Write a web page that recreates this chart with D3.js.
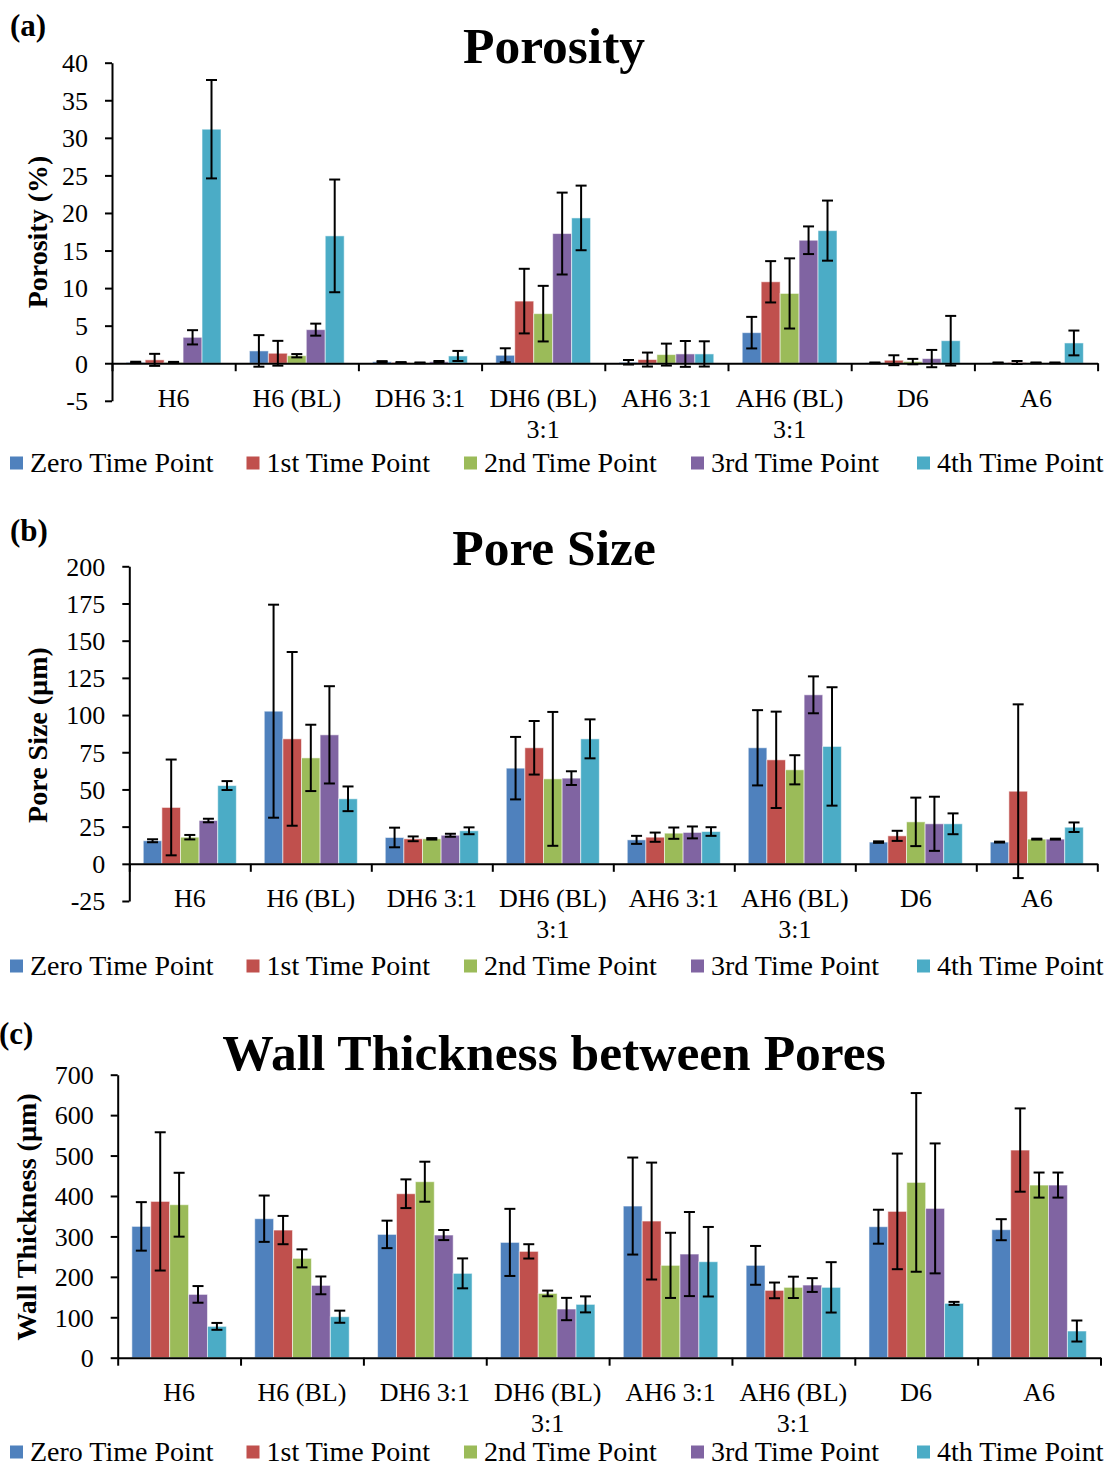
<!DOCTYPE html>
<html>
<head>
<meta charset="utf-8">
<script src="https://cdn.jsdelivr.net/npm/d3@7"></script>
<style>
  html, body { margin: 0; padding: 0; background: #fff; }
  svg { display: block; font-family: "Liberation Serif", "Times New Roman", serif; }
</style>
</head>
<body>
<svg id="chart" width="1109" height="1467"></svg>
<script>
// ---- shared categories / series ----
const categories = ["H6", "H6 (BL)", "DH6 3:1", "DH6 (BL) 3:1", "AH6 3:1", "AH6 (BL) 3:1", "D6", "A6"];
const seriesNames = ["Zero Time Point", "1st Time Point", "2nd Time Point", "3rd Time Point", "4th Time Point"];
const seriesColors = ["#4F81BD", "#C0504D", "#9BBB59", "#8064A2", "#4BACC6"];

// ---- (a) Porosity (%) ----
const porosityZero   = [0.12, 1.64, 0.2, 1.06, 0.13, 4.07, 0.05, 0.05];
const porosityFirst  = [0.45, 1.33, 0.1, 8.27, 0.49, 10.84, 0.4, 0.1];
const porositySecond = [0.1, 1.0, 0.05, 6.6, 1.15, 9.29, 0.22, 0.05];
const porosityThird  = [3.45, 4.47, 0.2, 17.26, 1.24, 16.37, 0.62, 0.05];
const porosityFourth = [31.15, 16.95, 0.97, 19.34, 1.24, 17.65, 3.0, 2.7];
const porosityZeroErr   = [0.08, 2.1, 0.08, 0.93, 0.3, 2.1, 0.05, 0.05];
const porosityFirstErr  = [0.8, 1.65, 0.05, 4.3, 0.93, 2.75, 0.66, 0.2];
const porositySecondErr = [0.08, 0.22, 0.05, 3.7, 1.46, 4.67, 0.36, 0.05];
const porosityThirdErr  = [0.95, 0.8, 0.1, 5.45, 1.72, 1.84, 1.15, 0.05];
const porosityFourthErr = [6.55, 7.5, 0.67, 4.3, 1.68, 4.0, 3.3, 1.65];
const porosityTicks = [-5, 0, 5, 10, 15, 20, 25, 30, 35, 40];

// ---- (b) Pore Size (µm) ----
const poreZero   = [15.5, 102.6, 17.7, 64.3, 16.1, 78.0, 14.6, 14.6];
const poreFirst  = [37.9, 84.0, 16.8, 78.0, 17.9, 69.9, 18.8, 48.8];
const poreSecond = [17.9, 71.2, 16.8, 57.1, 20.6, 63.2, 28.2, 16.6];
const poreThird  = [29.1, 86.7, 19.2, 57.6, 21.1, 113.6, 26.9, 16.6];
const poreFourth = [52.6, 43.7, 22.2, 84.0, 21.7, 78.9, 26.9, 24.6];
const poreZeroErr   = [1.0, 71.6, 6.6, 21.0, 2.7, 25.3, 0.5, 0.3];
const poreFirstErr  = [32.2, 58.4, 1.6, 18.0, 3.1, 32.4, 3.4, 58.4];
const poreSecondErr = [1.5, 22.3, 0.5, 45.0, 3.8, 9.8, 16.3, 0.3];
const poreThirdErr  = [1.2, 32.7, 1.0, 4.6, 4.0, 12.4, 18.2, 0.3];
const poreFourthErr = [3.0, 8.3, 2.3, 13.1, 2.9, 39.8, 7.0, 3.2];
const poreTicks = [-25, 0, 25, 50, 75, 100, 125, 150, 175, 200];

// ---- (c) Wall thickness between pores (µm) ----
const wallZero   = [324.8, 343.8, 305.0, 285.2, 375.1, 228.4, 324.0, 316.6];
const wallFirst  = [386.6, 315.7, 405.6, 263.0, 338.0, 166.5, 361.9, 513.6];
const wallSecond = [378.4, 245.7, 435.3, 159.0, 228.4, 174.0, 433.6, 427.0];
const wallThird  = [156.6, 178.9, 303.4, 120.4, 256.4, 179.7, 369.3, 427.0];
const wallFourth = [77.5, 101.4, 208.6, 131.9, 237.4, 174.0, 134.4, 66.0];
const wallZeroErr   = [60.0, 57.3, 34.0, 83.0, 120.0, 48.0, 42.0, 26.0];
const wallFirstErr  = [171.0, 35.0, 35.5, 17.7, 144.6, 19.4, 143.0, 103.0];
const wallSecondErr = [79.0, 22.3, 49.5, 7.0, 80.6, 26.4, 221.0, 31.0];
const wallThirdErr  = [20.6, 22.0, 12.5, 27.6, 104.0, 17.0, 160.7, 31.0];
const wallFourthErr = [8.5, 15.0, 37.0, 19.8, 86.0, 62.3, 3.7, 26.0];
const wallTicks = [0, 100, 200, 300, 400, 500, 600, 700];

// ---- panel layout ----
const panels = [
  {
    tag: "(a)", tagX: 10, tagY: 36,
    title: "Porosity", titleY: 63,
    yTitle: "Porosity (%)", yTitleX: 47, yTitleY: 232,
    values: [porosityZero, porosityFirst, porositySecond, porosityThird, porosityFourth],
    errors: [porosityZeroErr, porosityFirstErr, porositySecondErr, porosityThirdErr, porosityFourthErr],
    ticks: porosityTicks,
    left: 112, right: 1097.6, top: 62.7, bottom: 400.8,
    labelY: 406.6, legendY: 472
  },
  {
    tag: "(b)", tagX: 10, tagY: 541,
    title: "Pore Size", titleY: 565,
    yTitle: "Pore Size (µm)", yTitleX: 47, yTitleY: 735,
    values: [poreZero, poreFirst, poreSecond, poreThird, poreFourth],
    errors: [poreZeroErr, poreFirstErr, poreSecondErr, poreThirdErr, poreFourthErr],
    ticks: poreTicks,
    left: 129.3, right: 1097.3, top: 566.3, bottom: 901,
    labelY: 906.6, legendY: 975
  },
  {
    tag: "(c)", tagX: -1, tagY: 1044,
    title: "Wall Thickness between Pores", titleY: 1070,
    yTitle: "Wall Thickness (µm)", yTitleX: 36, yTitleY: 1217,
    values: [wallZero, wallFirst, wallSecond, wallThird, wallFourth],
    errors: [wallZeroErr, wallFirstErr, wallSecondErr, wallThirdErr, wallFourthErr],
    ticks: wallTicks,
    left: 117.7, right: 1100.5, top: 1074.7, bottom: 1357.7,
    labelY: 1400.6, legendY: 1461
  }
];

const legendX = [10, 246.5, 464, 691, 917];
const svg = d3.select("#chart");
svg.append("rect").attr("width", 1109).attr("height", 1467).attr("fill", "#fff");

panels.forEach(p => drawPanel(p));

function drawPanel(p) {
  const g = svg.append("g");
  const yDomain = d3.extent(p.ticks);
  const y = d3.scaleLinear().domain(yDomain).range([p.bottom, p.top]);
  const x0 = d3.scaleBand().domain(categories).range([p.left, p.right]).paddingInner(0).paddingOuter(0);
  const x1 = d3.scaleBand().domain(seriesNames).range([0, x0.bandwidth()]).paddingInner(0).paddingOuter(0.75);

  // bars
  const rows = [];
  p.values.forEach((vals, si) => {
    vals.forEach((v, ci) => rows.push({ s: seriesNames[si], si, c: categories[ci], v, e: p.errors[si][ci] }));
  });

  g.append("g").selectAll("rect").data(rows).join("rect")
    .attr("x", d => x0(d.c) + x1(d.s))
    .attr("width", x1.bandwidth())
    .attr("y", d => Math.min(y(d.v), y(0)))
    .attr("height", d => Math.abs(y(0) - y(d.v)))
    .attr("fill", d => seriesColors[d.si])
    .attr("stroke", "rgba(255,255,255,0.55)")
    .attr("stroke-width", 1);

  // error bars
  const eb = g.append("g").attr("stroke", "#000").attr("stroke-width", 2).attr("fill", "none");
  const cap = 5.5;
  rows.forEach(d => {
    const cx = x0(d.c) + x1(d.s) + x1.bandwidth() / 2;
    const yHi = y(d.v + d.e), yLo = y(d.v - d.e);
    eb.append("line").attr("x1", cx).attr("x2", cx).attr("y1", yHi).attr("y2", yLo);
    eb.append("line").attr("x1", cx - cap).attr("x2", cx + cap).attr("y1", yHi).attr("y2", yHi);
    eb.append("line").attr("x1", cx - cap).attr("x2", cx + cap).attr("y1", yLo).attr("y2", yLo);
  });

  // y axis (plain hyphen for negative numbers)
  const yAxis = g.append("g")
    .attr("transform", `translate(${p.left},0)`)
    .call(d3.axisLeft(y).tickValues(p.ticks).tickSize(7).tickSizeOuter(0).tickPadding(17).tickFormat(d => String(d)));
  yAxis.select(".domain").attr("stroke", "#000").attr("stroke-width", 2);
  yAxis.selectAll(".tick line").attr("stroke", "#000").attr("stroke-width", 2);
  yAxis.selectAll(".tick text")
    .attr("font-family", "Liberation Serif, serif").attr("font-size", 26)
    .attr("fill", "#000").attr("dy", "0.34em");

  // x axis along the zero line, ticks on category boundaries
  const xb = d3.scaleLinear().domain([0, categories.length]).range([p.left, p.right]);
  const xAxis = g.append("g")
    .attr("transform", `translate(0,${y(0)})`)
    .call(d3.axisBottom(xb).tickValues(d3.range(categories.length + 1)).tickSize(8).tickSizeOuter(0).tickFormat(""));
  xAxis.select(".domain").attr("stroke", "#000").attr("stroke-width", 2);
  xAxis.selectAll(".tick line").attr("stroke", "#000").attr("stroke-width", 2);

  // category labels (wrapped to band width)
  const lab = g.append("g").attr("font-size", 26).attr("text-anchor", "middle").attr("fill", "#000");
  categories.forEach(c => {
    const cx = x0(c) + x0.bandwidth() / 2;
    const t = lab.append("text").attr("x", cx).attr("y", p.labelY);
    const words = c.split(" ");
    let line = [], lineNo = 0;
    let ts = t.append("tspan").attr("x", cx).attr("y", p.labelY);
    words.forEach(w => {
      line.push(w);
      ts.text(line.join(" "));
      if (ts.node().getComputedTextLength() > x0.bandwidth() - 6 && line.length > 1) {
        line.pop();
        ts.text(line.join(" "));
        line = [w];
        lineNo++;
        ts = t.append("tspan").attr("x", cx).attr("y", p.labelY + lineNo * 31).text(w);
      }
    });
  });

  // titles
  g.append("text").attr("x", 554).attr("y", p.titleY).attr("text-anchor", "middle")
    .attr("font-weight", "bold").attr("font-size", 51.5).text(p.title);
  g.append("text").attr("x", p.tagX).attr("y", p.tagY)
    .attr("font-weight", "bold").attr("font-size", 31).text(p.tag);
  g.append("text").attr("transform", `translate(${p.yTitleX},${p.yTitleY}) rotate(-90)`)
    .attr("text-anchor", "middle").attr("font-weight", "bold").attr("font-size", 28).text(p.yTitle);

  // legend
  const leg = g.append("g");
  seriesNames.forEach((s, i) => {
    leg.append("rect").attr("x", legendX[i]).attr("y", p.legendY - 15.5).attr("width", 13).attr("height", 13)
      .attr("fill", seriesColors[i]);
    leg.append("text").attr("x", legendX[i] + 20).attr("y", p.legendY).attr("font-size", 28).text(s);
  });
}
</script>
</body>
</html>
